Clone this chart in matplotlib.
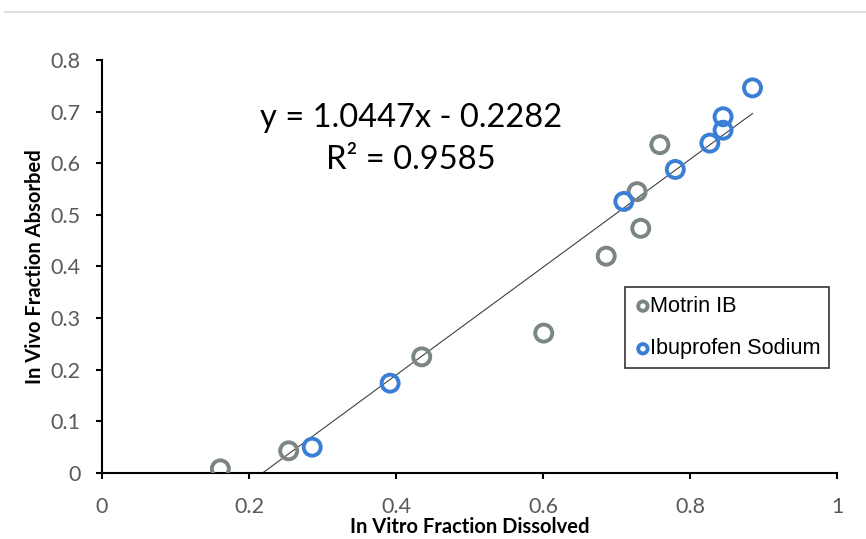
import matplotlib
matplotlib.use("Agg")
import matplotlib.pyplot as plt
from matplotlib.lines import Line2D
import numpy as np

motrin_x = [0.161, 0.254, 0.435, 0.601, 0.686, 0.728, 0.733, 0.759]
motrin_y = [0.008, 0.043, 0.225, 0.271, 0.420, 0.545, 0.474, 0.636]
ibu_x = [0.286, 0.392, 0.710, 0.780, 0.827, 0.845, 0.845, 0.885]
ibu_y = [0.050, 0.174, 0.526, 0.588, 0.639, 0.664, 0.690, 0.746]
slope, intercept = 1.0447, -0.2282
x_ticks = [0, 0.2, 0.4, 0.6, 0.8, 1]
y_ticks = [0, 0.1, 0.2, 0.3, 0.4, 0.5, 0.6, 0.7, 0.8]

plt.rcParams['font.family'] = ['Lato', 'DejaVu Sans']

fig = plt.figure(figsize=(8.66, 5.39), dpi=100)
fig.add_artist(Line2D([5/866, 1], [1-12/539, 1-12/539], color='#d9d9d9', lw=1.2))
ax = fig.add_axes([102/866, 66/539, 735/866, 413/539])

gray = '#7b8585'
blue = '#3a7fd5'

all_x = np.array(motrin_x + ibu_x)
x0 = -intercept / slope
x1 = all_x.max()
ax.plot([x0, x1], [slope*x0+intercept, slope*x1+intercept], color='#404040', lw=0.8, zorder=2)

ax.scatter(motrin_x, motrin_y, s=150, facecolors='none', edgecolors=gray, linewidths=2.8, zorder=3, label='Motrin IB')
ax.scatter(ibu_x, ibu_y, s=150, facecolors='none', edgecolors=blue, linewidths=2.8, zorder=3, label='Ibuprofen Sodium')

ax.set_xlim(0, 1)
ax.set_ylim(0, 0.8)
ax.set_xticks(x_ticks)
ax.set_xticklabels(['0', '0.2', '0.4', '0.6', '0.8', '1'])
ax.set_yticks(y_ticks)
ax.set_yticklabels(['0', '0.1', '0.2', '0.3', '0.4', '0.5', '0.6', '0.7', '0.8'])
for s in ['top', 'right']:
    ax.spines[s].set_visible(False)
for s in ['left', 'bottom']:
    ax.spines[s].set_color('black')
    ax.spines[s].set_linewidth(1.5)
ax.tick_params(axis='both', direction='out', length=4.5, width=1.5, colors='black', labelcolor='#595959', labelsize=15.5)
ax.tick_params(axis='x', pad=13)
ax.tick_params(axis='y', pad=11)

ax.set_xlabel('In Vitro Fraction Dissolved', fontsize=14.5, fontweight='bold', labelpad=0)
ax.set_ylabel('In Vivo Fraction Absorbed', fontsize=14.5, fontweight='bold', labelpad=4)

ax.text(0.42, 0.688, 'y = 1.0447x - 0.2282', fontsize=23.5, ha='center', va='center', transform=ax.transData)
ax.text(0.42, 0.607, 'R² = 0.9585', fontsize=23.5, ha='center', va='center', transform=ax.transData)

leg = ax.legend(loc='upper left', bbox_to_anchor=(0.7116, 0.450), frameon=True, fancybox=False,
                edgecolor='black', fontsize=15.6, handletextpad=-0.12, markerscale=0.55,
                borderpad=0.4, labelspacing=1.0, handlelength=0.85, borderaxespad=0)
leg.get_frame().set_linewidth(1.2)
for t in leg.get_texts():
    t.set_family(['Liberation Sans', 'DejaVu Sans'])

fig.savefig('out.png', dpi=100)
